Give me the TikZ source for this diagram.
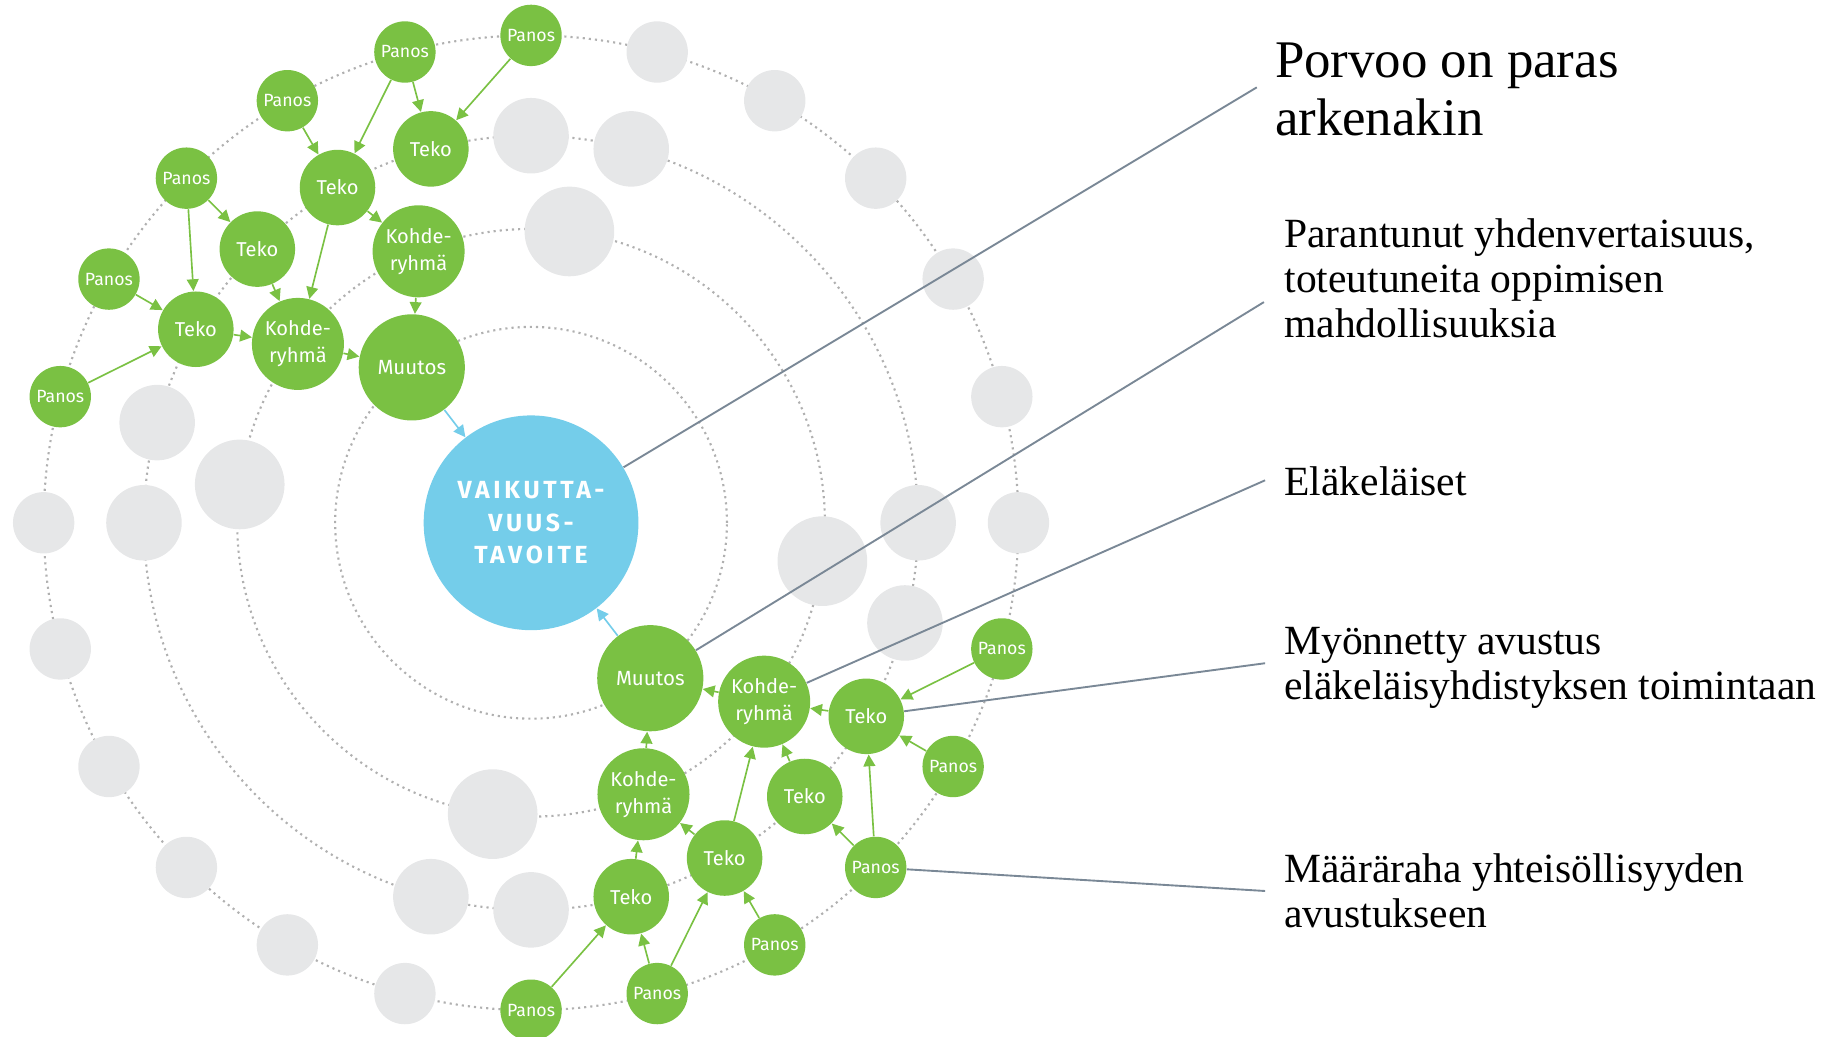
\documentclass[tikz,border=0pt]{standalone}
\usepackage{fontspec}
\setmainfont{Liberation Serif}
\newfontfamily\nodefont{Fira Sans}
\newfontfamily\goalfont[LetterSpace=15]{Fira Sans}
\usetikzlibrary{positioning, arrows.meta}

\definecolor{nodegreen}{HTML}{7AC143}
\definecolor{goalblue}{HTML}{74CDEA}
\definecolor{blankgrey}{HTML}{E6E7E8}
\definecolor{ringgrey}{HTML}{B0B0B0}
\definecolor{leadergrey}{HTML}{7A8896}

\tikzset{
  ring/.style={draw=ringgrey, line width=0.9pt, dash pattern=on 0.9pt off 1.7pt},
  blank/.style={circle, fill=blankgrey, inner sep=0pt},
  panos/.style={circle, fill=nodegreen, text=white, inner sep=0pt, minimum size=26pt, font=\nodefont\fontsize{7.5pt}{9pt}\selectfont},
  teko/.style={panos, minimum size=32pt, font=\nodefont\fontsize{8.5pt}{10pt}\selectfont},
  kohde/.style={panos, minimum size=39pt, align=center, font=\nodefont\fontsize{8.5pt}{11.5pt}\selectfont},
  muutos/.style={panos, minimum size=45pt, font=\nodefont\fontsize{8.7pt}{10pt}\selectfont},
  flow/.style={draw=nodegreen, line width=0.7pt, -{Triangle[length=5pt,width=5pt]}},
  leader/.style={draw=leadergrey, line width=0.8pt},
  caption/.style={anchor=north west, inner sep=0pt, align=left, font=\fontsize{17.6pt}{19pt}\selectfont}
}

\begin{document}
\begin{tikzpicture}[x=0.5pt, y=0.5pt]

\useasboundingbox (-450,-435) rectangle (1110,443);

\draw[ring] (0,0) circle (83pt);
\draw[ring] (0,0) circle (124.5pt);
\draw[ring] (0,0) circle (164pt);
\draw[ring] (0,0) circle (206.5pt);

% empty places on the rings
\node[blank, minimum size=26pt] (go0) at (0:206.5pt) {};
\node[blank, minimum size=26pt] (go15) at (15:206.5pt) {};
\node[blank, minimum size=26pt] (go30) at (30:206.5pt) {};
\node[blank, minimum size=26pt] (go45) at (45:206.5pt) {};
\node[blank, minimum size=26pt] (go60) at (60:206.5pt) {};
\node[blank, minimum size=26pt] (go75) at (75:206.5pt) {};
\node[blank, minimum size=26pt] (go180) at (180:206.5pt) {};
\node[blank, minimum size=26pt] (go195) at (195:206.5pt) {};
\node[blank, minimum size=26pt] (go210) at (210:206.5pt) {};
\node[blank, minimum size=26pt] (go225) at (225:206.5pt) {};
\node[blank, minimum size=26pt] (go240) at (240:206.5pt) {};
\node[blank, minimum size=26pt] (go255) at (255:206.5pt) {};

\node[blank, minimum size=32pt] (gt75) at (75:164pt) {};
\node[blank, minimum size=32pt] (gt90) at (90:164pt) {};
\node[blank, minimum size=32pt] (gt165) at (165:164pt) {};
\node[blank, minimum size=32pt] (gt180) at (180:164pt) {};
\node[blank, minimum size=32pt] (gt255) at (255:164pt) {};
\node[blank, minimum size=32pt] (gt270) at (270:164pt) {};
\node[blank, minimum size=32pt] (gt345) at (345:164pt) {};
\node[blank, minimum size=32pt] (gt0) at (0:164pt) {};

\node[blank, minimum size=38pt] (gk82) at (82.5:124.5pt) {};
\node[blank, minimum size=38pt] (gk172) at (172.5:124.5pt) {};
\node[blank, minimum size=38pt] (gk262) at (262.5:124.5pt) {};
\node[blank, minimum size=38pt] (gk352) at (352.5:124.5pt) {};

% goal
\node[circle, fill=goalblue, text=white, minimum size=91pt, align=center, font=\goalfont\bfseries\fontsize{10.5pt}{13.75pt}\selectfont] (goal) at (0,0) {VAIKUTTA-\\VUUS-\\TAVOITE};

% upper chain
\node[panos] (p90) at (90:206.5pt) {Panos};
\node[panos] (p105) at (105:206.5pt) {Panos};
\node[panos] (p120) at (120:206.5pt) {Panos};
\node[panos] (p135) at (135:206.5pt) {Panos};
\node[panos] (p150) at (150:206.5pt) {Panos};
\node[panos] (p165) at (165:206.5pt) {Panos};
\node[teko] (t105) at (105:164pt) {Teko};
\node[teko] (t120) at (120:164pt) {Teko};
\node[teko] (t135) at (135:164pt) {Teko};
\node[teko] (t150) at (150:164pt) {Teko};
\node[kohde] (k112) at (112.5:124.5pt) {Kohde-\\ryhmä};
\node[kohde] (k142) at (142.5:124.5pt) {Kohde-\\ryhmä};
\node[muutos] (m127) at (127.5:83pt) {Muutos};

% lower chain
\node[panos] (p270) at (270:206.5pt) {Panos};
\node[panos] (p285) at (285:206.5pt) {Panos};
\node[panos] (p300) at (300:206.5pt) {Panos};
\node[panos] (p315) at (315:206.5pt) {Panos};
\node[panos] (p330) at (330:206.5pt) {Panos};
\node[panos] (p345) at (345:206.5pt) {Panos};
\node[teko] (t285) at (285:164pt) {Teko};
\node[teko] (t300) at (300:164pt) {Teko};
\node[teko] (t315) at (315:164pt) {Teko};
\node[teko] (t330) at (330:164pt) {Teko};
\node[kohde] (k292) at (292.5:124.5pt) {Kohde-\\ryhmä};
\node[kohde] (k322) at (322.5:124.5pt) {Kohde-\\ryhmä};
\node[muutos] (m307) at (307.5:83pt) {Muutos};

\draw[flow] (p165) -- (t150);
\draw[flow] (p150) -- (t150);
\draw[flow] (p135) -- (t150);
\draw[flow] (p135) -- (t135);
\draw[flow] (p120) -- (t120);
\draw[flow] (p105) -- (t120);
\draw[flow] (p105) -- (t105);
\draw[flow] (p90) -- (t105);
\draw[flow] (t150) -- (k142);
\draw[flow] (t135) -- (k142);
\draw[flow] (t120) -- (k142);
\draw[flow] (t120) -- (k112);
\draw[flow] (k142) -- (m127);
\draw[flow] (k112) -- (m127);
\draw[flow, draw=goalblue] (m127) -- (goal);

\draw[flow] (p270) -- (t285);
\draw[flow] (p285) -- (t285);
\draw[flow] (p285) -- (t300);
\draw[flow] (p300) -- (t300);
\draw[flow] (p315) -- (t315);
\draw[flow] (p315) -- (t330);
\draw[flow] (p330) -- (t330);
\draw[flow] (p345) -- (t330);
\draw[flow] (t285) -- (k292);
\draw[flow] (t300) -- (k292);
\draw[flow] (t300) -- (k322);
\draw[flow] (t315) -- (k322);
\draw[flow] (t330) -- (k322);
\draw[flow] (k292) -- (m307);
\draw[flow] (k322) -- (m307);
\draw[flow, draw=goalblue] (m307) -- (goal);

% captions
\coordinate (l1) at (615,369);
\coordinate (l2) at (621,187);
\coordinate (l3) at (622,36);
\coordinate (l4) at (622,-119);
\coordinate (l5) at (622,-312);

\node[caption, font=\fontsize{22.4pt}{24.5pt}\selectfont] (c1) at (630,407) {Porvoo on paras\\arkenakin};
\node[caption] (c2) at (638,258) {Parantunut yhdenvertaisuus,\\toteutuneita oppimisen\\mahdollisuuksia};
\node[caption] (c3) at (638,48) {Eläkeläiset};
\node[caption] (c4) at (638,-88) {Myönnetty avustus\\eläkeläisyhdistyksen toimintaan};
\node[caption] (c5) at (638,-280) {Määräraha yhteisöllisyyden\\avustukseen};

\draw[leader] (goal) -- (l1);
\draw[leader] (m307) -- (l2);
\draw[leader] (k322) -- (l3);
\draw[leader] (t330) -- (l4);
\draw[leader] (p315) -- (l5);

\end{tikzpicture}
\end{document}
